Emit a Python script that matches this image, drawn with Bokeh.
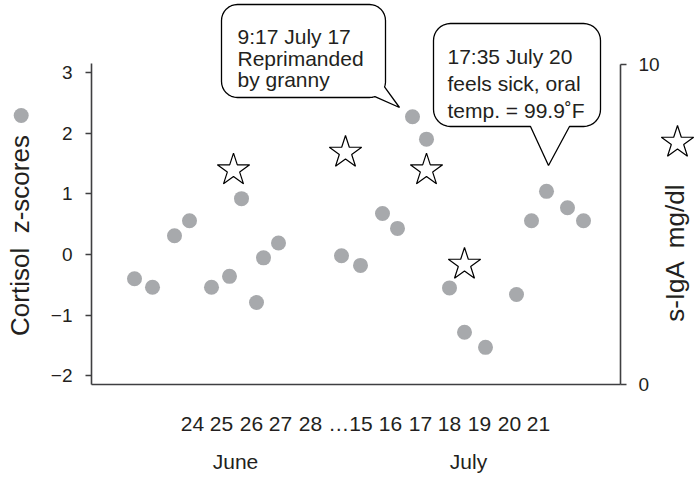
import math
from bokeh.plotting import figure
from bokeh.models import Range1d, LinearAxis, FixedTicker, Label, Grid
from bokeh.core.properties import value
from bokeh.embed import file_html
from bokeh.resources import INLINE

# ---------------- data ----------------
# horizontal sample position (same units as the x scale of the panel)
cortisol_pos = [134, 152, 174, 189, 211, 229, 241, 256, 263, 278, 341, 360,
                382, 397, 412, 426, 449, 464, 485, 516, 531, 546, 567, 583]
cortisol_z = [-0.40, -0.54, 0.31, 0.555, -0.54, -0.36, 0.92, -0.79, -0.055, 0.19, -0.02, -0.18,
              0.675, 0.43, 2.27, 1.90, -0.55, -1.28, -1.53, -0.66, 0.555, 1.04, 0.77, 0.555]
siga_pos = [233, 345, 426, 464]
siga_mgdl = [6.7, 7.25, 6.7, 3.75]

day_labels = ["24", "25", "26", "27", "28", "\u202615", "16", "17", "18", "19", "20", "21"]
day_pos = [192, 221, 251, 280, 310, 350, 390, 420, 449, 479, 509, 538]
month_labels = ["June", "July"]
month_pos = [235, 468]
z_ticks = [-2, -1, 0, 1, 2, 3]
siga_ticks = [0, 10]

note1_lines = ["9:17 July 17", "Reprimanded", "by granny"]
note2_lines = ["17:35 July 20", "feels sick, oral", "temp. = 99.9\u02daF"]

# ---------------- styling / layout ----------------
FONT = "Liberation Sans"
TXT = "#231f20"
AXC = "#3f3f41"
DOT = "#a7a9ac"

W, H = 695, 479
X_LEFT, X_RIGHT, Y_BASE = 91, 620, 384          # where the axes sit (panel px units)
Z_LO, Z_HI = -2.142, 3.147                       # extent of the left axis line
PX_PER_Z, Z0_PX = 60.7, 254                       # left scale
PX_PER_MG = 32.0                                  # right scale

p = figure(width=W, height=H, output_backend="svg", toolbar_location=None,
           x_range=Range1d(0, W), y_range=Range1d(H, 0),
           x_axis_location=None, y_axis_location=None,
           min_border_left=0, min_border_right=0, min_border_top=0, min_border_bottom=0)
p.outline_line_color = None
p.background_fill_color = "white"
p.border_fill_color = "white"
p.center = [r for r in p.center if not isinstance(r, Grid)]
p.extra_y_ranges = {
    "z": Range1d((Z0_PX - H) / PX_PER_Z, Z0_PX / PX_PER_Z),
    "iga": Range1d((Y_BASE - H) / PX_PER_MG, Y_BASE / PX_PER_MG),
}

def style_axis(ax, size):
    ax.axis_line_color = AXC
    ax.axis_line_width = 1.6
    ax.major_tick_line_color = AXC
    ax.major_tick_line_width = 1.6
    ax.minor_tick_line_color = None
    ax.major_label_text_font = FONT
    ax.major_label_text_font_size = size
    ax.major_label_text_color = TXT

left = LinearAxis(y_range_name="z", ticker=FixedTicker(ticks=z_ticks), bounds=(Z_LO, Z_HI),
                  fixed_location=X_LEFT,
                  major_label_overrides={t: (("\u2212%d" % -t) if t < 0 else str(t)) for t in z_ticks})
style_axis(left, "19px")
left.major_tick_out = 6
left.major_tick_in = 0
left.major_label_standoff = 13
p.add_layout(left, "left")

right = LinearAxis(y_range_name="iga", ticker=FixedTicker(ticks=siga_ticks), bounds=(0, 10),
                   fixed_location=X_RIGHT)
style_axis(right, "19px")
right.major_tick_out = 6
right.major_tick_in = 0
right.major_label_standoff = 12
p.add_layout(right, "right")

bottom = LinearAxis(ticker=FixedTicker(ticks=day_pos), bounds=(X_LEFT, X_RIGHT),
                    fixed_location=Y_BASE,
                    major_label_overrides={d: l for d, l in zip(day_pos, day_labels)})
style_axis(bottom, "21px")
bottom.major_tick_line_color = None
bottom.major_tick_out = 0
bottom.major_tick_in = 0
bottom.major_label_standoff = 27
p.add_layout(bottom, "below")

months = LinearAxis(ticker=FixedTicker(ticks=month_pos), bounds=(X_LEFT, X_RIGHT),
                    fixed_location=Y_BASE,
                    major_label_overrides={d: l for d, l in zip(month_pos, month_labels)})
style_axis(months, "21px")
months.axis_line_color = None
months.major_tick_line_color = None
months.major_tick_out = 0
months.major_tick_in = 0
months.major_label_standoff = 65
p.add_layout(months, "below")

# ---------------- marks ----------------
p.scatter(cortisol_pos, cortisol_z, y_range_name="z", size=15,
          fill_color=DOT, line_color=None)
p.scatter(siga_pos, siga_mgdl, y_range_name="iga", marker="star", size=34,
          fill_color="white", line_color="black", line_width=1.2)

# ---------------- speech bubbles ----------------
def bubble(x0, y0, x1, y1, r, kind, tail):
    pts = []
    def arc(cx, cy, a0, a1, n=8):
        for i in range(n + 1):
            a = math.radians(a0 + (a1 - a0) * i / n)
            pts.append((cx + r * math.cos(a), cy + r * math.sin(a)))
    arc(x1 - r, y0 + r, 270, 360)
    if kind == "corner":
        a1, a2, tip = tail
        arc(x1 - r, y1 - r, 0, a1, 4)
        pts.append(tip)
        arc(x1 - r, y1 - r, a2, 90, 4)
    else:
        arc(x1 - r, y1 - r, 0, 90)
        xa, xb, tip = tail
        pts.extend([(xa, y1), tip, (xb, y1)])
    arc(x0 + r, y1 - r, 90, 180)
    arc(x0 + r, y0 + r, 180, 270)
    return [q[0] for q in pts], [q[1] for q in pts]

bx1, by1 = bubble(221, 4, 385, 97, 16, "corner", (20, 70, (399, 107)))
bx2, by2 = bubble(433, 23, 600, 126, 17, "bottom", (569, 530, (548, 165)))
for bx, by in ((bx1, by1), (bx2, by2)):
    p.patch(bx, by, fill_color="white", line_color="black", line_width=1.3)

p.text(x=[237] * 3, y=[35.7, 57.5, 79.3], text=note1_lines, text_font=value(FONT),
       text_font_size="21px", text_color=TXT, text_baseline="alphabetic", text_align="left")
p.text(x=[447] * 3, y=[56, 83.3, 110], text=note2_lines, text_font=value(FONT),
       text_font_size="21px", text_color=TXT, text_baseline="alphabetic", text_align="left")

# ---------------- axis titles with their key symbols ----------------
p.add_layout(Label(x=19, y=235, text="Cortisol \u00a0z-scores", angle=math.pi / 2,
                   text_align="center", text_baseline="middle",
                   text_font=FONT, text_font_size="26px", text_color=TXT))
p.add_layout(Label(x=674.5, y=252, text="s-IgA \u00a0mg/dl", angle=math.pi / 2,
                   text_align="center", text_baseline="middle",
                   text_font=FONT, text_font_size="26px", text_color=TXT))
p.scatter([20.7], [115], size=15, fill_color=DOT, line_color=None)
p.scatter([677], [142], marker="star", size=34, fill_color="white",
          line_color="black", line_width=1.2)

open("out.html", "w").write(file_html(p, INLINE))
